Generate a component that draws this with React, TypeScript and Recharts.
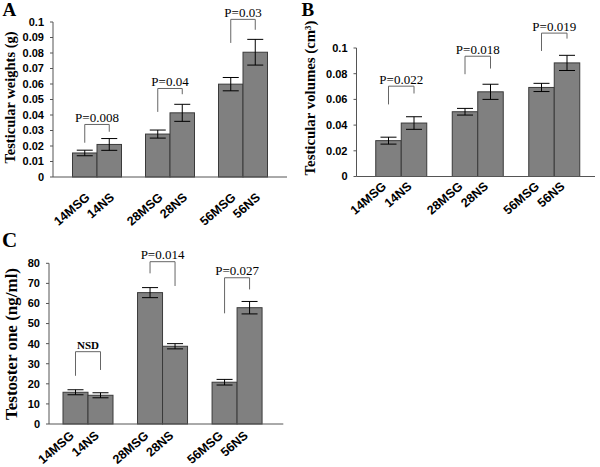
import { BarChart, Bar, XAxis, YAxis, ErrorBar } from "recharts";

const msgLabels = ["14MSG", "28MSG", "56MSG"];
const nsLabels = ["14NS", "28NS", "56NS"];

// A: testicular weights (g)
const weightMsg = [0.0155, 0.0277, 0.0599];
const weightMsgErr = [0.0018, 0.0026, 0.0043];
const weightNs = [0.021, 0.0414, 0.0805];
const weightNsErr = [0.0038, 0.0055, 0.0083];
const weightP = ["P=0.008", "P=0.04", "P=0.03"];
const weightBracket = [0.0339, 0.0571, 0.1017];
const weightLegMsg = [0.0221, 0.042, 0.0865];
const weightLegNs = [0.0292, 0.0534, 0.095];
const weightTicks = [0, 0.01, 0.02, 0.03, 0.04, 0.05, 0.06, 0.07, 0.08, 0.09, 0.1];

// B: testicular volumes (cm3)
const volumeMsg = [0.0279, 0.0504, 0.0693];
const volumeMsgErr = [0.0027, 0.0026, 0.0032];
const volumeNs = [0.0416, 0.0659, 0.0884];
const volumeNsErr = [0.0049, 0.0059, 0.0059];
const volumeP = ["P=0.022", "P=0.018", "P=0.019"];
const volumeBracket = [0.0703, 0.0936, 0.1116];
const volumeLegMsg = [0.0561, 0.0796, 0.0977];
const volumeLegNs = [0.0646, 0.084, 0.1073];
const volumeTicks = [0, 0.02, 0.04, 0.06, 0.08, 0.1];

// C: testosterone (ng/ml)
const testoMsg = [15.8, 65.4, 20.8];
const testoMsgErr = [1.25, 2.5, 1.4];
const testoNs = [14.3, 38.7, 57.9];
const testoNsErr = [1.25, 1.3, 3.1];
const testoP = ["NSD", "P=0.014", "P=0.027"];
const testoBracket = [36, 80.8, 72.8];
const testoLegMsg = [24, 75, 55.1];
const testoLegNs = [26.9, 68.7, 67];
const testoTicks = [0, 10, 20, 30, 40, 50, 60, 70, 80];

const BAR_FILL = "#808080";
const BAR_STROKE = "#3a3a3a";
const SANS = "'Liberation Sans', Arial, sans-serif";
const SERIF = "'Liberation Serif', 'Times New Roman', serif";

function buildRows(
  msg: number[], msgErr: number[], ns: number[], nsErr: number[],
  p: string[], top: number[], legMsg: number[], legNs: number[]
) {
  return msgLabels.map((_, i) => ({
    group: msgLabels[i],
    msg: msg[i],
    msgErr: msgErr[i],
    ns: ns[i],
    nsErr: nsErr[i],
    p: p[i],
    top: top[i],
    legMsg: legMsg[i],
    legNs: legNs[i],
  }));
}

function MsgShape(props: any) {
  const { x, y, width, height } = props;
  return <rect x={x} y={y} width={width} height={height} fill={BAR_FILL} stroke={BAR_STROKE} strokeWidth={1} />;
}

function NsShape(props: any) {
  const { x, y, width, height, payload } = props;
  const base = y + height;
  const k = height / payload.ns;
  const toY = (v: number) => base - v * k;
  const xl = x - width / 2;
  const xr = x + width / 2;
  const yt = toY(payload.top);
  const bold = payload.p === "NSD";
  return (
    <g>
      <rect x={x} y={y} width={width} height={height} fill={BAR_FILL} stroke={BAR_STROKE} strokeWidth={1} />
      <path
        d={`M${xl},${toY(payload.legMsg)}V${yt}H${xr}V${toY(payload.legNs)}`}
        fill="none"
        stroke="#666"
        strokeWidth={1}
      />
      <text
        x={(xl + xr) / 2}
        y={yt - 2.5}
        textAnchor="middle"
        fontFamily={SERIF}
        fontSize={bold ? 11 : 13}
        fontWeight={bold ? "bold" : "normal"}
        fill="#000"
      >
        {payload.p}
      </text>
    </g>
  );
}

type PanelProps = {
  rows: any[];
  ticks: number[];
  max: number;
  left: number;
  top: number;
  width: number;
  height: number;
  axisX: number;
  plotTop: number;
  plotBottom: number;
  plotRight: number;
  padL: number;
  padR: number;
  barSize: number;
  labelDx: number;
  labelDy: number;
};

function Panel(c: PanelProps) {
  const XTick = (p: any) => {
    const { x, y, index } = p;
    const off = c.barSize / 2;
    const labels = [msgLabels[index], nsLabels[index]];
    return (
      <g>
        {labels.map((t, i) => {
          const ax = x + (i ? off : -off) + c.labelDx;
          const ay = y + c.labelDy;
          return (
            <g key={t} transform={`translate(${ax} ${ay}) rotate(-41)`}>
              <text x={0} y={0} textAnchor="end" fontFamily={SANS} fontSize={12.5} fontWeight="bold" fill="#000">
                {t}
              </text>
            </g>
          );
        })}
      </g>
    );
  };

  return (
    <div style={{ position: "absolute", left: c.left, top: c.top }}>
      <BarChart
        width={c.width}
        height={c.height}
        data={c.rows}
        barGap={0}
        margin={{ top: c.plotTop, right: c.width - c.plotRight, left: 0, bottom: 0 }}
      >
        <XAxis
          dataKey="group"
          height={c.height - c.plotBottom}
          padding={{ left: c.padL, right: c.padR }}
          interval={0}
          tickSize={0}
          tickMargin={0}
          tickLine={false}
          axisLine={{ stroke: "#555" }}
          tick={XTick}
        />
        <YAxis
          width={c.axisX}
          domain={[0, c.max]}
          ticks={c.ticks}
          interval={0}
          tickSize={3}
          tickMargin={6}
          axisLine={{ stroke: "#555" }}
          tickLine={{ stroke: "#555" }}
          tick={{ fontSize: 11, fontWeight: "bold", fill: "#000", fontFamily: SANS }}
          tickFormatter={(v: number) => String(v)}
        />
        <Bar dataKey="msg" barSize={c.barSize} shape={MsgShape} isAnimationActive={false}>
          <ErrorBar dataKey="msgErr" width={8} stroke="#000" strokeWidth={1} isAnimationActive={false} />
        </Bar>
        <Bar dataKey="ns" barSize={c.barSize} shape={NsShape} isAnimationActive={false}>
          <ErrorBar dataKey="nsErr" width={8} stroke="#000" strokeWidth={1} isAnimationActive={false} />
        </Bar>
      </BarChart>
    </div>
  );
}

export default function App() {
  const weightRows = buildRows(weightMsg, weightMsgErr, weightNs, weightNsErr, weightP, weightBracket, weightLegMsg, weightLegNs);
  const volumeRows = buildRows(volumeMsg, volumeMsgErr, volumeNs, volumeNsErr, volumeP, volumeBracket, volumeLegMsg, volumeLegNs);
  const testoRows = buildRows(testoMsg, testoMsgErr, testoNs, testoNsErr, testoP, testoBracket, testoLegMsg, testoLegNs);

  return (
    <div style={{ position: "absolute", left: 0, top: 0, width: 600, height: 467, background: "#fff", overflow: "hidden" }}>
      <style>{`.recharts-surface { overflow: visible; }`}</style>
      <Panel
        rows={weightRows} ticks={weightTicks} max={0.1}
        left={0} top={0} width={300} height={230}
        axisX={53} plotTop={22} plotBottom={177} plotRight={287}
        padL={7.5} padR={7.5} barSize={24.5} labelDx={5.8} labelDy={21.5}
      />
      <Panel
        rows={volumeRows} ticks={volumeTicks} max={0.1}
        left={300} top={0} width={300} height={230}
        axisX={56.5} plotTop={48} plotBottom={176.5} plotRight={295}
        padL={6.25} padR={2.75} barSize={25.5} labelDx={-1.2} labelDy={11}
      />
      <Panel
        rows={testoRows} ticks={testoTicks} max={80}
        left={0} top={230} width={300} height={237}
        axisX={49} plotTop={33.3} plotBottom={194} plotRight={283.3}
        padL={2} padR={8.7} barSize={25} labelDx={-1} labelDy={12.8}
      />
      <svg width={600} height={467} style={{ position: "absolute", left: 0, top: 0, pointerEvents: "none" }}>
        <g fontFamily={SERIF} fontWeight="bold" fill="#000">
          <text x={2.5} y={16} fontSize={19}>A</text>
          <text x={301.5} y={16} fontSize={19}>B</text>
          <text x={2} y={246.7} fontSize={21}>C</text>
          <text transform="translate(15,97.5) rotate(-90)" textAnchor="middle" fontSize={14.5}>
            Testicular weights (g)
          </text>
          <text transform="translate(315,98) rotate(-90)" textAnchor="middle" fontSize={14.8}>
            Testicular volumes (cm³)
          </text>
          <text transform="translate(16.5,344) rotate(-90)" textAnchor="middle" fontSize={17}>
            Testoster one (ng/ml)
          </text>
        </g>
      </svg>
    </div>
  );
}
